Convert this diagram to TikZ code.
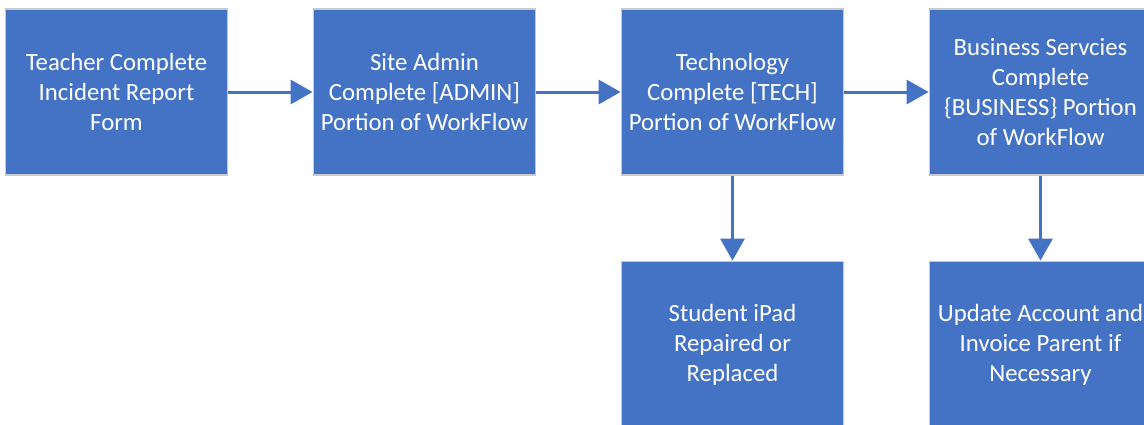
\documentclass[tikz,border=0pt]{standalone}
\usepackage{fontspec}
\setmainfont{Carlito}
\usetikzlibrary{arrows.meta}
\definecolor{boxblue}{HTML}{4472C4}
\definecolor{boxedge}{HTML}{C9C9C9}
\begin{document}
\begin{tikzpicture}[x=0.02cm, y=-0.02cm,
    stepbox/.style={rectangle, draw=boxedge, line width=1.1pt, fill=boxblue,
      text=white, align=center, minimum width=4.44cm, minimum height=3.32cm,
      font=\fontsize{14.1}{17.1}\selectfont},
    flow/.style={draw=boxblue, line width=1.7pt, -{Triangle[length=12.5pt, width=13.7pt]}}]
  \clip (0,0) rectangle (1144,424);
  \fill[white] (0,0) rectangle (1144,424);

  % Define steps
  \node[stepbox] (teacher) at (116.5,92) {Teacher Complete\\Incident Report\\Form};
  \node[stepbox] (admin) at (424.5,92) {Site Admin\\Complete [ADMIN]\\Portion of WorkFlow};
  \node[stepbox] (tech) at (732.5,92) {Technology\\Complete [TECH]\\Portion of WorkFlow};
  \node[stepbox] (business) at (1040.5,92) {Business Servcies\\Complete\\\{BUSINESS\} Portion\\of WorkFlow};
  \node[stepbox] (ipad) at (732.5,344.5) {Student iPad\\Repaired or\\Replaced};
  \node[stepbox] (invoice) at (1040.5,344.5) {Update Account and\\Invoice Parent if\\Necessary};

  % Draw arrows
  \draw[flow] (teacher) -- (admin);
  \draw[flow] (admin) -- (tech);
  \draw[flow] (tech) -- (business);
  \draw[flow] (tech) -- (ipad);
  \draw[flow] (business) -- (invoice);
\end{tikzpicture}
\end{document}
